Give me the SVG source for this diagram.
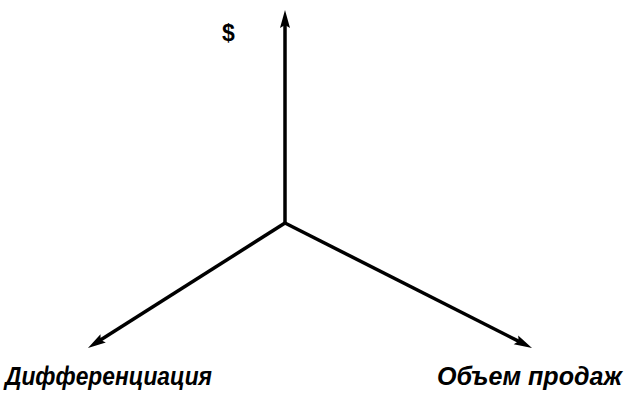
<svg xmlns="http://www.w3.org/2000/svg" width="630" height="400" viewBox="0 0 630 400">
<style>
.axis{stroke:#000;stroke-width:3.5;fill:none;marker-end:url(#ah)}
.lbl{font-family:"Liberation Sans",Arial,sans-serif;font-weight:bold;font-style:italic;font-size:25px;fill:#000}
.dol{font-family:"Liberation Sans",Arial,sans-serif;font-weight:bold;font-size:23px;fill:#000}
</style>
<defs>
<marker id="ah" markerUnits="userSpaceOnUse" markerWidth="20" markerHeight="12" refX="6" refY="5" orient="auto" overflow="visible">
<path d="M0,0 L18,5 L0,10 L3,5 z" fill="#000"/>
</marker>
</defs>
<rect width="630" height="400" fill="#fff"/>
<g id="connectors">
<path class="axis" d="M285,223 L285,22"/>
<path class="axis" d="M285,223 L98.1,341.6"/>
<path class="axis" d="M285,223 L521.3,342.6"/>
</g>
<g id="node-dollar"><text class="dol" x="222" y="41">$</text></g>
<g id="node-diff"><text class="lbl" x="5" y="385" textLength="207" lengthAdjust="spacingAndGlyphs">Дифференциация</text></g>
<g id="node-volume"><text class="lbl" x="437" y="385" textLength="185" lengthAdjust="spacingAndGlyphs">Объем продаж</text></g>
</svg>
